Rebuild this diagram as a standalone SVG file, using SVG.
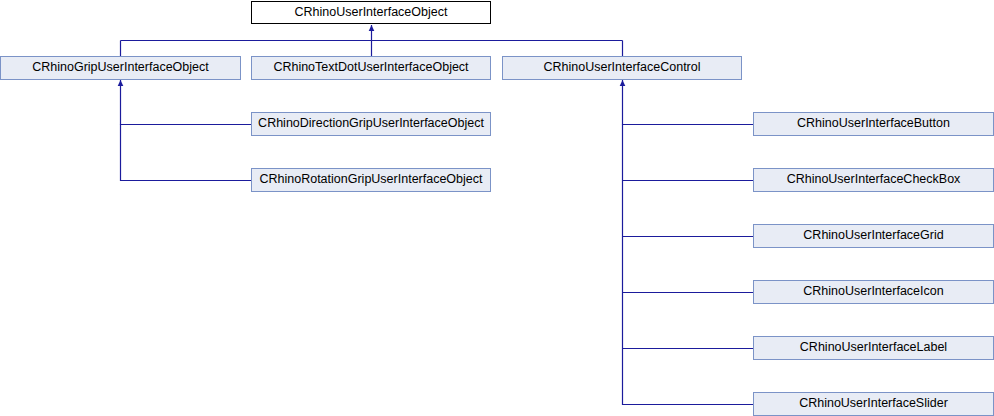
<svg xmlns="http://www.w3.org/2000/svg" width="994" height="416" viewBox="0 0 994 416">
<defs>
<marker id="ah" markerWidth="8" markerHeight="8" refX="7" refY="4" orient="auto" markerUnits="userSpaceOnUse">
<path d="M1,1.2 L7,4 L1,6.8 Z" fill="#1b1b9c"/>
</marker>
</defs>
<style>
.n rect{fill:#e8ecf5;stroke:#7b93c7;stroke-width:1}
.r rect{fill:#ffffff;stroke:#000000;stroke-width:1}
text{font-family:"Liberation Sans",Arial,sans-serif;font-size:12.5px;fill:#000;text-anchor:middle}
.e path{fill:none;stroke:#1b1b9c;stroke-width:1.2}
</style>
<rect width="994" height="416" fill="#ffffff"/>
<g class="e" id="edges">
<path d="M120.5,40.5 H622.5"/>
<path d="M371.5,56 V25" marker-end="url(#ah)"/>
<path d="M120.5,56 V40.5"/>
<path d="M622.5,56 V40.5"/>
<path d="M251,124.5 H120.5 V80" marker-end="url(#ah)"/>
<path d="M251,180.5 H120.5 V124.5"/>
<path d="M753,124.5 H622.5 V80" marker-end="url(#ah)"/>
<path d="M753,180.5 H622.5"/>
<path d="M753,236.5 H622.5"/>
<path d="M753,292.5 H622.5"/>
<path d="M753,348.5 H622.5"/>
<path d="M753,404.5 H622.5 V124.5"/>
</g>
<g id="CRhinoUserInterfaceObject" class="r"><rect x="251.5" y="1.5" width="239" height="22"/><text x="371" y="16">CRhinoUserInterfaceObject</text></g>
<g id="CRhinoGripUserInterfaceObject" class="n"><rect x="0.5" y="56.5" width="240" height="23"/><text x="120.5" y="71.3">CRhinoGripUserInterfaceObject</text></g>
<g id="CRhinoTextDotUserInterfaceObject" class="n"><rect x="251.5" y="56.5" width="239" height="23"/><text x="371" y="71.3">CRhinoTextDotUserInterfaceObject</text></g>
<g id="CRhinoUserInterfaceControl" class="n"><rect x="502.5" y="56.5" width="239" height="23"/><text x="622" y="71.3">CRhinoUserInterfaceControl</text></g>
<g id="CRhinoDirectionGripUserInterfaceObject" class="n"><rect x="251.5" y="112.5" width="239" height="23"/><text x="371" y="127.3">CRhinoDirectionGripUserInterfaceObject</text></g>
<g id="CRhinoRotationGripUserInterfaceObject" class="n"><rect x="251.5" y="168.5" width="239" height="23"/><text x="371" y="183.3">CRhinoRotationGripUserInterfaceObject</text></g>
<g id="CRhinoUserInterfaceButton" class="n"><rect x="753.5" y="112.5" width="240" height="23"/><text x="873.5" y="127.3">CRhinoUserInterfaceButton</text></g>
<g id="CRhinoUserInterfaceCheckBox" class="n"><rect x="753.5" y="168.5" width="240" height="23"/><text x="873.5" y="183.3">CRhinoUserInterfaceCheckBox</text></g>
<g id="CRhinoUserInterfaceGrid" class="n"><rect x="753.5" y="224.5" width="240" height="23"/><text x="873.5" y="239.3">CRhinoUserInterfaceGrid</text></g>
<g id="CRhinoUserInterfaceIcon" class="n"><rect x="753.5" y="280.5" width="240" height="23"/><text x="873.5" y="295.3">CRhinoUserInterfaceIcon</text></g>
<g id="CRhinoUserInterfaceLabel" class="n"><rect x="753.5" y="336.5" width="240" height="23"/><text x="873.5" y="351.3">CRhinoUserInterfaceLabel</text></g>
<g id="CRhinoUserInterfaceSlider" class="n"><rect x="753.5" y="392.5" width="240" height="23"/><text x="873.5" y="407.3">CRhinoUserInterfaceSlider</text></g>
</svg>
